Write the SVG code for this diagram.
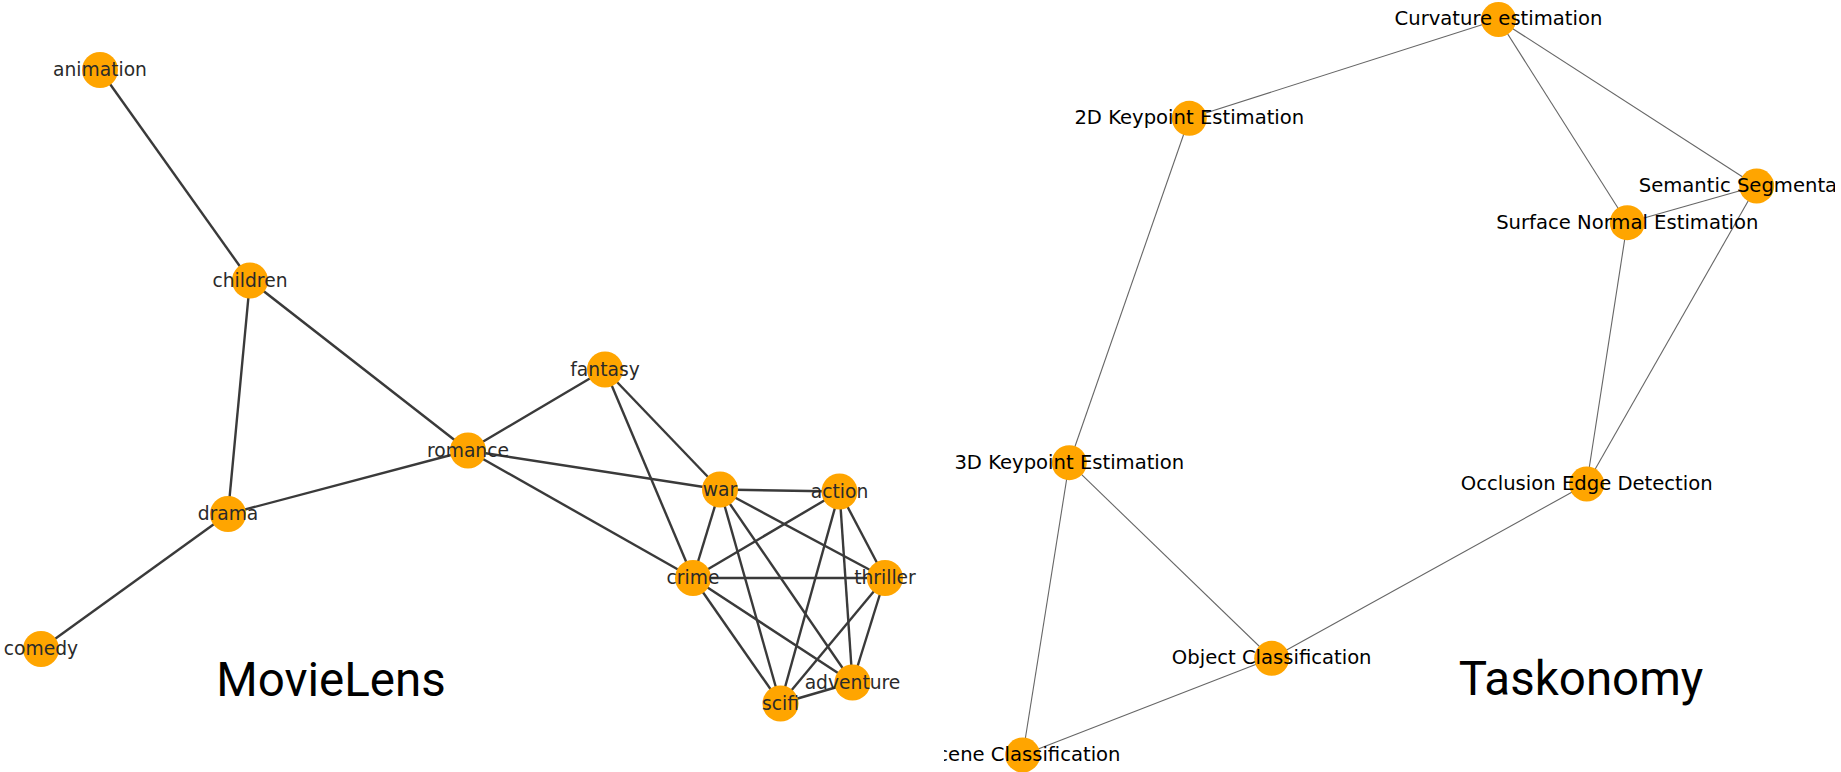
<svg xmlns="http://www.w3.org/2000/svg" width="1841" height="772" viewBox="0 0 1841 772">
<style>
.bg{fill:#ffffff}
.le{stroke:#3a3a3a;stroke-width:2.4;fill:none}
.re{stroke:#666666;stroke-width:1.1;fill:none}
.ln{fill:#FFA500}
.rn{fill:#FFA500}
.ll{font-family:"DejaVu Sans",sans-serif;font-size:18.7px;fill:#2a2a2a;text-anchor:middle}
.rl{font-family:"DejaVu Sans",sans-serif;font-size:19.6px;fill:#000000;text-anchor:middle}
.title{font-family:Roboto,"Liberation Sans",sans-serif;font-size:47.5px;fill:#000000;text-anchor:middle}
</style>
<defs>
<clipPath id="rightPanel"><rect x="944" y="0" width="891" height="772"/></clipPath>
</defs>
<rect class="bg" x="0" y="0" width="1841" height="772"/>
<g id="connectors-movielens">
<line class="le" x1="100" y1="70" x2="250" y2="280.5"/>
<line class="le" x1="250" y1="280.5" x2="228" y2="514"/>
<line class="le" x1="250" y1="280.5" x2="468" y2="450.5"/>
<line class="le" x1="228" y1="514" x2="468" y2="450.5"/>
<line class="le" x1="228" y1="514" x2="41" y2="649"/>
<line class="le" x1="468" y1="450.5" x2="605" y2="369.5"/>
<line class="le" x1="468" y1="450.5" x2="720" y2="489.5"/>
<line class="le" x1="468" y1="450.5" x2="693" y2="578"/>
<line class="le" x1="605" y1="369.5" x2="720" y2="489.5"/>
<line class="le" x1="605" y1="369.5" x2="693" y2="578"/>
<line class="le" x1="720" y1="489.5" x2="839.5" y2="491.5"/>
<line class="le" x1="720" y1="489.5" x2="693" y2="578"/>
<line class="le" x1="720" y1="489.5" x2="885" y2="578"/>
<line class="le" x1="720" y1="489.5" x2="780.5" y2="703.5"/>
<line class="le" x1="720" y1="489.5" x2="852.5" y2="682.5"/>
<line class="le" x1="839.5" y1="491.5" x2="693" y2="578"/>
<line class="le" x1="839.5" y1="491.5" x2="885" y2="578"/>
<line class="le" x1="839.5" y1="491.5" x2="780.5" y2="703.5"/>
<line class="le" x1="839.5" y1="491.5" x2="852.5" y2="682.5"/>
<line class="le" x1="693" y1="578" x2="885" y2="578"/>
<line class="le" x1="693" y1="578" x2="780.5" y2="703.5"/>
<line class="le" x1="693" y1="578" x2="852.5" y2="682.5"/>
<line class="le" x1="885" y1="578" x2="780.5" y2="703.5"/>
<line class="le" x1="885" y1="578" x2="852.5" y2="682.5"/>
<line class="le" x1="780.5" y1="703.5" x2="852.5" y2="682.5"/>
</g>
<g id="connectors-taskonomy" clip-path="url(#rightPanel)">
<line class="re" x1="1498.5" y1="19.5" x2="1189.3" y2="118.3"/>
<line class="re" x1="1498.5" y1="19.5" x2="1627.3" y2="222.7"/>
<line class="re" x1="1498.5" y1="19.5" x2="1756.7" y2="186"/>
<line class="re" x1="1756.7" y1="186" x2="1627.3" y2="222.7"/>
<line class="re" x1="1756.7" y1="186" x2="1586.7" y2="484"/>
<line class="re" x1="1627.3" y1="222.7" x2="1586.7" y2="484"/>
<line class="re" x1="1189.3" y1="118.3" x2="1069.3" y2="462.7"/>
<line class="re" x1="1069.3" y1="462.7" x2="1271.7" y2="658.3"/>
<line class="re" x1="1069.3" y1="462.7" x2="1022.7" y2="755"/>
<line class="re" x1="1271.7" y1="658.3" x2="1022.7" y2="755"/>
<line class="re" x1="1271.7" y1="658.3" x2="1586.7" y2="484"/>
</g>
<g id="node-animation"><circle class="ln" cx="100" cy="70" r="18"/><text class="ll" x="100" y="76">animation</text></g>
<g id="node-children"><circle class="ln" cx="250" cy="280.5" r="18"/><text class="ll" x="250" y="286.5">children</text></g>
<g id="node-drama"><circle class="ln" cx="228" cy="514" r="18"/><text class="ll" x="228" y="520">drama</text></g>
<g id="node-comedy"><circle class="ln" cx="41" cy="649" r="18"/><text class="ll" x="41" y="655">comedy</text></g>
<g id="node-romance"><circle class="ln" cx="468" cy="450.5" r="18"/><text class="ll" x="468" y="456.5">romance</text></g>
<g id="node-fantasy"><circle class="ln" cx="605" cy="369.5" r="18"/><text class="ll" x="605" y="375.5">fantasy</text></g>
<g id="node-war"><circle class="ln" cx="720" cy="489.5" r="18"/><text class="ll" x="720" y="495.5">war</text></g>
<g id="node-action"><circle class="ln" cx="839.5" cy="491.5" r="18"/><text class="ll" x="839.5" y="497.5">action</text></g>
<g id="node-crime"><circle class="ln" cx="693" cy="578" r="18"/><text class="ll" x="693" y="584">crime</text></g>
<g id="node-thriller"><circle class="ln" cx="885" cy="578" r="18"/><text class="ll" x="885" y="584">thriller</text></g>
<g id="node-adventure"><circle class="ln" cx="852.5" cy="682.5" r="18"/><text class="ll" x="852.5" y="688.5">adventure</text></g>
<g id="node-scifi"><circle class="ln" cx="780.5" cy="703.5" r="18"/><text class="ll" x="780.5" y="709.5">scifi</text></g>
<g id="taskonomy-nodes" clip-path="url(#rightPanel)">
<g id="node-curvature"><circle class="rn" cx="1498.5" cy="19.5" r="17.5"/><text class="rl" x="1498.5" y="25.3">Curvature estimation</text></g>
<g id="node-2d-keypoint"><circle class="rn" cx="1189.3" cy="118.3" r="17.5"/><text class="rl" x="1189.3" y="124.1">2D Keypoint Estimation</text></g>
<g id="node-semantic-seg"><circle class="rn" cx="1756.7" cy="186" r="17.5"/><text class="rl" x="1756.7" y="191.8">Semantic Segmentation</text></g>
<g id="node-surface-normal"><circle class="rn" cx="1627.3" cy="222.7" r="17.5"/><text class="rl" x="1627.3" y="228.5">Surface Normal Estimation</text></g>
<g id="node-3d-keypoint"><circle class="rn" cx="1069.3" cy="462.7" r="17.5"/><text class="rl" x="1069.3" y="468.5">3D Keypoint Estimation</text></g>
<g id="node-occlusion"><circle class="rn" cx="1586.7" cy="484" r="17.5"/><text class="rl" x="1586.7" y="489.8">Occlusion Edge Detection</text></g>
<g id="node-object-cls"><circle class="rn" cx="1271.7" cy="658.3" r="17.5"/><text class="rl" x="1271.7" y="664.1">Object Classification</text></g>
<g id="node-scene-cls"><circle class="rn" cx="1022.7" cy="755" r="17.5"/><text class="rl" x="1022.7" y="760.8">Scene Classification</text></g>
</g>
<g id="titles">
<text class="title" x="331" y="695.5">MovieLens</text>
<text class="title" x="1581" y="695">Taskonomy</text>
</g>
</svg>
